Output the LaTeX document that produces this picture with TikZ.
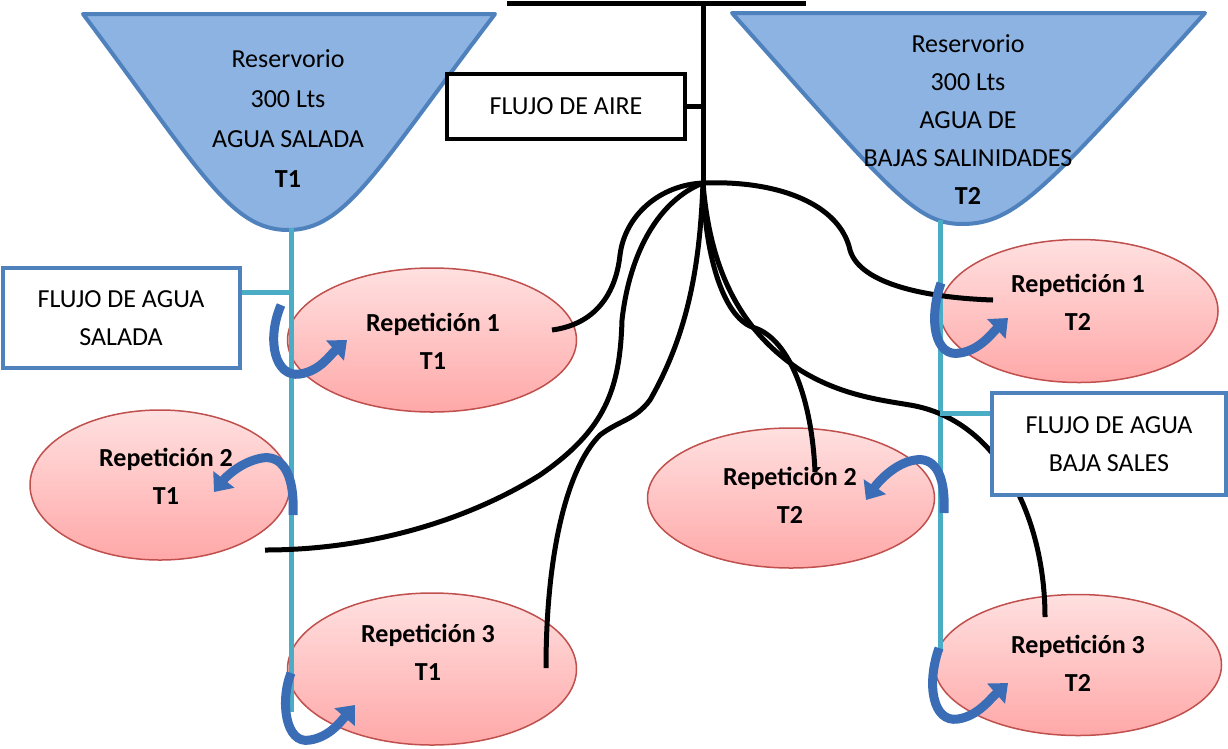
\documentclass[tikz,border=0pt]{standalone}
\usepackage{fontspec}
\setmainfont{Carlito}
\usetikzlibrary{arrows.meta,shapes.geometric}
\definecolor{tankfill}{HTML}{8DB3E2}
\definecolor{tankline}{HTML}{4F81BD}
\definecolor{pipecol}{HTML}{4BACC6}
\definecolor{repline}{HTML}{C0504D}
\definecolor{reptop}{HTML}{FFE0E0}
\definecolor{repbot}{HTML}{FFA8A8}
\definecolor{turncol}{HTML}{3A6DB5}

\begin{document}
\begin{tikzpicture}[x=1pt, y=-1pt, font=\fontsize{26}{38}\selectfont,
                        tank/.style={fill=tankfill, draw=tankline, line width=4pt, line join=round},
                        rep/.style={ellipse, draw=repline, line width=1.5pt, top color=reptop, bottom color=repbot,
                                    inner sep=0pt, minimum width=289pt, minimum height=144pt},
                        reptext/.style={align=center, font=\fontsize{26}{38}\selectfont\bfseries},
                        flow/.style={draw=tankline, line width=4pt, fill=white, align=center, inner sep=0pt},
                        pipe/.style={draw=pipecol, line width=5pt},
                        air/.style={draw=black, line width=5pt},
                        turn/.style={draw=turncol, line width=9pt, -{Triangle[width=26pt,length=16pt]}},
					]
                    \useasboundingbox (0,0) rectangle (1228,748);
                    \draw[tank] (83,14) .. controls (200,170) and (230,230) .. (288,230) .. controls (346,230) and (376,170) .. (495,14) -- cycle;
                    \draw[tank] (732,13) .. controls (890,190) and (915,224) .. (962,224) .. controls (1015,224) and (1045,190) .. (1205,13) -- cycle;
                    \node[align=center, font=\fontsize{26}{40}\selectfont] (t1) at (288,119) {Reservorio\\300 Lts\\AGUA SALADA\\\textbf{T1}};
                    \node[align=center] (t2) at (968,120) {Reservorio\\300 Lts\\AGUA DE\\BAJAS SALINIDADES\\\textbf{T2}};
                    \node[rep] (r1a) at (432,340) {};
                    \node[rep, minimum width=260pt, minimum height=150pt] (r2a) at (160,485) {};
                    \node[rep, minimum height=152pt] (r3a) at (432,669) {};
                    \node[rep, minimum width=278pt, minimum height=143pt] (r1b) at (1079,311) {};
                    \node[rep, minimum width=287pt, minimum height=140pt] (r2b) at (791,498) {};
                    \node[rep, minimum width=287pt, minimum height=141pt] (r3b) at (1078,665) {};
                    \node[reptext] (r1at) at (433,341) {Repetición 1\\T1};
                    \node[reptext] (r2at) at (166,476) {Repetición 2\\T1};
                    \node[reptext] (r3at) at (428,652) {Repetición 3\\T1};
                    \node[reptext] (r1bt) at (1078,302) {Repetición 1\\T2};
                    \node[reptext] (r2bt) at (790,495) {Repetición 2\\T2};
                    \node[reptext] (r3bt) at (1078,663) {Repetición 3\\T2};
                    \coordinate (p1) at (291,228); \coordinate (p1e) at (291,712); \coordinate (j1) at (291,292);
                    \coordinate (p2) at (940,220); \coordinate (p2e) at (940,652); \coordinate (j2) at (940,413);
                    \draw[pipe] (p1) -- (p1e);
                    \draw[pipe] (p2) -- (p2e);
                    \coordinate (barL) at (507,3); \coordinate (barR) at (806,3);
                    \coordinate (top) at (703,3); \coordinate (hub) at (703,183);
                    \coordinate (e1) at (552,330); \coordinate (e2) at (265,550); \coordinate (e3) at (546,668);
                    \coordinate (e4) at (815,472); \coordinate (e5) at (1045,617); \coordinate (e6) at (993,300);
                    \draw[air] (barL) -- (barR);
                    \draw[air] (top) -- (hub);
                    \draw[air] (hub) .. controls (660,185) and (625,215) .. (620,255) .. controls (615,300) and (590,325) .. (e1);
                    \draw[air] (hub) .. controls (660,200) and (630,250) .. (622,320) .. controls (620,390) and (605,430) .. (540,475) .. controls (460,525) and (360,550) .. (e2);
                    \draw[air] (hub) .. controls (700,260) and (690,330) .. (650,400) .. controls (635,420) and (620,420) .. (600,435) .. controls (565,470) and (546,560) .. (e3);
                    \draw[air] (hub) .. controls (705,260) and (725,320) .. (755,328) .. controls (790,340) and (812,400) .. (e4);
                    \draw[air] (hub) .. controls (710,270) and (740,330) .. (800,370) .. controls (840,395) and (880,400) .. (910,405) .. controls (1000,420) and (1045,520) .. (e5);
                    \draw[air] (hub) .. controls (780,180) and (840,205) .. (850,250) .. controls (860,285) and (930,298) .. (e6);
                    \node[flow, draw=black, minimum width=238pt, minimum height=65pt] (aire) at (566,106) {FLUJO DE AIRE};
                    \draw[air] (aire.east) -- (aire.east -| hub);
                    \node[flow, minimum width=237pt, minimum height=100pt] (salada) at (121,318) {FLUJO DE AGUA\\SALADA};
                    \node[flow, minimum width=234pt, minimum height=102pt] (bajas) at (1109,444) {FLUJO DE AGUA\\BAJA SALES};
                    \draw[pipe] (salada.east |- j1) -- (j1);
                    \draw[pipe] (j2) -- (j2 -| bajas.west);
                    \draw[turn] (281,305) .. controls (266,340) and (275,378) .. (300,374) .. controls (320,371) and (330,355) .. (347,340);
                    \draw[turn] (293,515) .. controls (295,470) and (280,455) .. (262,458) .. controls (240,462) and (225,478) .. (214,492);
                    \draw[turn] (291,673) .. controls (280,700) and (285,745) .. (310,740) .. controls (330,737) and (342,720) .. (355,705);
                    \draw[turn] (941,283) .. controls (928,320) and (935,358) .. (960,353) .. controls (980,350) and (992,333) .. (1008,318);
                    \draw[turn] (944,513) .. controls (946,470) and (932,457) .. (915,460) .. controls (895,463) and (878,482) .. (866,500);
                    \draw[turn] (939,648) .. controls (926,685) and (933,723) .. (958,719) .. controls (978,716) and (990,699) .. (1008,683);
	\end{tikzpicture}
\end{document}
